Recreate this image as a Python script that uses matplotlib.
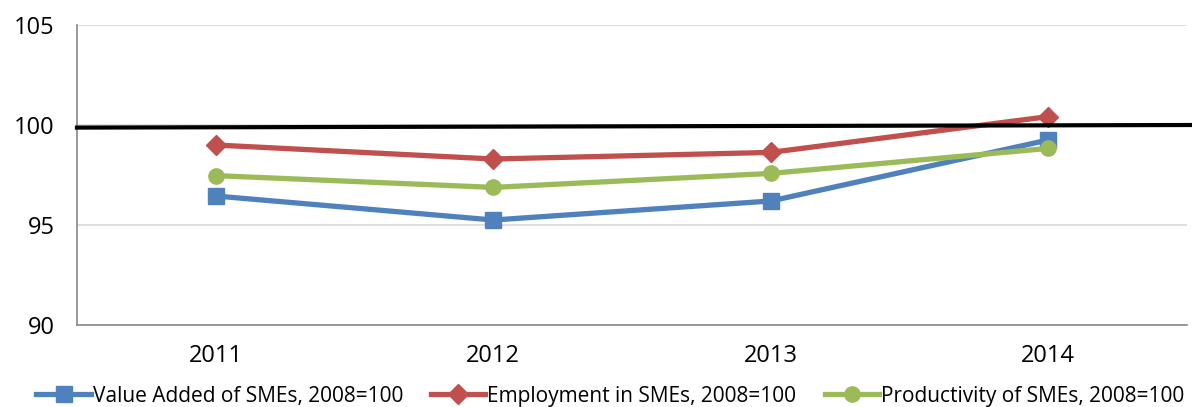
import matplotlib
matplotlib.use("Agg")
import matplotlib.pyplot as plt
import matplotlib.transforms as mtransforms

years = ["2011", "2012", "2013", "2014"]
value_added = [96.45, 95.25, 96.2, 99.25]
employment = [99.0, 98.3, 98.63, 100.42]
productivity = [97.47, 96.88, 97.58, 98.83]
baseline = [99.87, 100.0]
yticks = [90, 95, 100, 105]

plt.rcParams['font.family'] = ['Open Sans', 'DejaVu Sans']

fig = plt.figure(figsize=(11.92, 4.07), dpi=100)
ax = fig.add_axes([77/1192, 1-325/407, 1110/1192, 300/407])

x = list(range(len(years)))
ax.plot(x, value_added, color='#4F81BD', lw=3.8, marker='s', ms=11, label='Value Added of SMEs, 2008=100', zorder=3)
ax.plot(x, employment, color='#C0504D', lw=3.8, marker='D', ms=10, label='Employment in SMEs, 2008=100', zorder=3)
ax.plot(x, productivity, color='#9BBB59', lw=3.8, marker='o', ms=11, label='Productivity of SMEs, 2008=100', zorder=3)

trans = mtransforms.blended_transform_factory(ax.transAxes, ax.transData)
ax.plot([0, 1.004], baseline, color='black', lw=3, transform=trans, clip_on=False, zorder=4)

ax.set_xlim(-0.5, 3.5)
ax.set_ylim(90, 105)
ax.set_yticks(yticks)
ax.set_xticks(x)
ax.set_xticklabels(years)
ax.tick_params(axis='both', length=0, labelsize=17, colors='black')
ax.tick_params(axis='x', pad=14)
ax.tick_params(axis='y', pad=16)
ax.grid(axis='y', color='#D9D9D9', lw=1.2)
ax.set_axisbelow(True)
for s in ['top', 'right']:
    ax.spines[s].set_visible(False)
for s in ['left', 'bottom']:
    ax.spines[s].set_color('#888888')
    ax.spines[s].set_linewidth(1.2)

leg = fig.legend(loc='lower center', bbox_to_anchor=(0.512, -0.045), ncol=3, frameon=False,
                 fontsize=15, handlelength=2.6, handletextpad=0.1, columnspacing=1.35)
fig.savefig('out.png', dpi=100)
